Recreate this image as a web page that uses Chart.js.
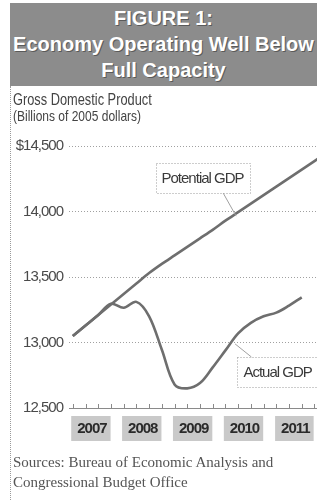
<!DOCTYPE html>
<html>
<head>
<meta charset="utf-8">
<script src="https://cdn.jsdelivr.net/npm/chart.js@4.4.1/dist/chart.umd.min.js"></script>
<style>
  html, body { margin: 0; padding: 0; background: #fff; }
  #wrap { position: relative; width: 317px; height: 500px; overflow: hidden; }
  #header {
    position: absolute; left: 10px; top: 3px; width: 307px; height: 83px;
    background: #8c8c8c; color: #fff; text-align: center;
    font: bold 20px "Liberation Sans", Arial, sans-serif; line-height: 26px;
    padding-top: 2px; box-sizing: border-box; white-space: nowrap;
    text-shadow: 1px 1px 0 #5a5a5a;
  }
  #rule { position: absolute; left: 10px; top: 86px; height: 414px; border-left: 1px dotted #9a9a9a; }
  #ytitle { position: absolute; left: 13px; top: 91px; color: #444; white-space: nowrap;
    font-family: "Liberation Sans", Arial, sans-serif; transform: scaleX(0.8); transform-origin: 0 0; }
  #ytitle .t1 { font-size: 16px; line-height: 17px; }
  #ytitle .t2 { font-size: 15px; line-height: 16px; }
  #sources { position: absolute; left: 13px; top: 452px; color: #555; white-space: nowrap;
    font: 15px "Liberation Serif", "DejaVu Serif", serif; line-height: 20px; }
  canvas { position: absolute; left: 0; top: 0; }
</style>
</head>
<body>
<div id="wrap">
  <canvas id="c" width="317" height="500"></canvas>
  <div id="header">FIGURE 1:<br>Economy Operating Well Below<br>Full Capacity</div>
  <div id="rule"></div>
  <div id="ytitle"><div class="t1">Gross Domestic Product</div><div class="t2">(Billions of 2005 dollars)</div></div>
  <div id="sources">Sources: Bureau of Economic Analysis and<br>Congressional Budget Office</div>
</div>
<script>
// Quarters since 2007 Q1
const quarterIndex = [0,1,2,3,4,5,6,7,8,9,10,11,12,13,14,15,16,17,18,19,20];
// Potential GDP, billions of 2005 dollars
const potentialGDP = [13050,13130,13210,13290,13370,13450,13530,13600,13665,13730,13795,13860,13930,13995,14060,14125,14190,14255,14320,14385,14450];
// Actual GDP, billions of 2005 dollars
const actualGDP = [13050,13130,13210,13295,13265,13310,13200,12945,12680,12650,12690,12810,12940,13070,13150,13200,13228,13282,13345];
const yearLabels = ['2007','2008','2009','2010','2011'];
const yearCenters = [1.5,5.5,9.5,13.5,17.5];
const yTickValues = [14500,14000,13500,13000,12500];
const yTickLabels = ['$14,500','14,000','13,500','13,000','12,500'];
const seriesNames = ['Potential GDP','Actual GDP'];

const FONT = '"Liberation Sans", Arial, sans-serif';
const LINE = '#6e6e6e';

const toPts = (vals) => vals.map((v, i) => ({ x: quarterIndex[i], y: v }));

const spacingPlugin = {
  id: 'tightText',
  beforeDraw(chart) { chart.ctx.letterSpacing = '-1px'; },
  afterDraw(chart) { chart.ctx.letterSpacing = '0px'; }
};

const labelPlugin = {
  id: 'gdpLabels',
  afterDatasetsDraw(chart) {
    const ctx = chart.ctx;
    const xs = chart.scales.x, ys = chart.scales.y;
    const area = chart.chartArea;
    ctx.save();
    // upward quarterly tick marks on the baseline
    ctx.strokeStyle = '#8a8a8a';
    ctx.lineWidth = 1;
    quarterIndex.forEach(q => {
      if (q > xs.max) return;
      const px = Math.round(xs.getPixelForValue(q)) + 0.5;
      ctx.beginPath();
      ctx.moveTo(px, area.bottom);
      ctx.lineTo(px, area.bottom - 4);
      ctx.stroke();
    });
    // series labels in dotted boxes with leader lines
    const notes = [
      { text: seriesNames[0], cx: 10.2, cy: 14255, tx: 13.0, ty: potentialGDP[13], from: 'bottom' },
      { text: seriesNames[1], cx: 16.1, cy: 12775, tx: 12.6, ty: 13020, from: 'top' }
    ];
    ctx.font = '15px ' + FONT;
    notes.forEach(n => {
      const cx = xs.getPixelForValue(n.cx), cy = ys.getPixelForValue(n.cy);
      const w = ctx.measureText(n.text).width + 12, h = 30;
      const bx = cx - w / 2, by = cy - h / 2;
      ctx.fillStyle = '#fff';
      ctx.fillRect(bx, by, w, h);
      ctx.setLineDash([1, 2]);
      ctx.strokeStyle = '#9a9a9a';
      ctx.strokeRect(Math.round(bx) + 0.5, Math.round(by) + 0.5, Math.round(w), h);
      ctx.setLineDash([]);
      ctx.fillStyle = '#3a3a3a';
      ctx.textAlign = 'center';
      ctx.textBaseline = 'middle';
      ctx.fillText(n.text, cx, cy + 1);
      const tx = xs.getPixelForValue(n.tx), ty = ys.getPixelForValue(n.ty);
      ctx.strokeStyle = '#a0a0a0';
      ctx.beginPath();
      if (n.from === 'bottom') { ctx.moveTo(bx + w * 0.72, by + h); ctx.lineTo(tx - 2, ty + 4); }
      else { ctx.moveTo(bx + 14, by); ctx.lineTo(tx + 2, ty + 4); }
      ctx.stroke();
    });
    ctx.restore();
  }
};

new Chart(document.getElementById('c'), {
  type: 'line',
  data: {
    datasets: [
      { label: seriesNames[0], data: toPts(potentialGDP), borderColor: LINE, borderWidth: 2.6, pointRadius: 0, tension: 0.3, fill: false },
      { label: seriesNames[1], data: toPts(actualGDP), borderColor: LINE, borderWidth: 2.6, pointRadius: 0, tension: 0.35, fill: false }
    ]
  },
  options: {
    responsive: false,
    animation: false,
    layout: { padding: { top: 146, left: 0, right: 0, bottom: 48 } },
    plugins: { legend: { display: false }, tooltip: { enabled: false }, title: { display: false } },
    scales: {
      x: {
        type: 'linear', min: -0.3, max: 19.2,
        afterBuildTicks: (s) => { s.ticks = yearCenters.map(v => ({ value: v })); },
        afterFit: (s) => { s.height = 44; },
        grid: { display: false },
        border: { display: true, color: '#8a8a8a', width: 1 },
        ticks: {
          autoSkip: false, maxRotation: 0, padding: 4,
          callback: (v, i) => yearLabels[i],
          color: '#2a2a2a',
          font: { family: FONT, size: 15, weight: 'bold' },
          showLabelBackdrop: true, backdropColor: '#c9c9c9',
          backdropPadding: { top: 4, bottom: 3, left: 4, right: 2 }
        }
      },
      y: {
        type: 'linear', min: 12500, max: 14500,
        afterBuildTicks: (s) => { s.ticks = yTickValues.map(v => ({ value: v })); },
        afterFit: (s) => { s.width = 69; },
        border: { display: false, dash: [1, 2] },
        grid: {
          drawTicks: false,
          color: (c) => c.tick && c.tick.value === 12500 ? 'rgba(0,0,0,0)' : '#a0a0a0',
          lineWidth: 1
        },
        ticks: {
          padding: 6, color: '#4a4a4a',
          font: { family: FONT, size: 15 },
          callback: (v) => yTickLabels[yTickValues.indexOf(v)]
        }
      }
    }
  },
  plugins: [spacingPlugin, labelPlugin]
});
</script>
</body>
</html>
